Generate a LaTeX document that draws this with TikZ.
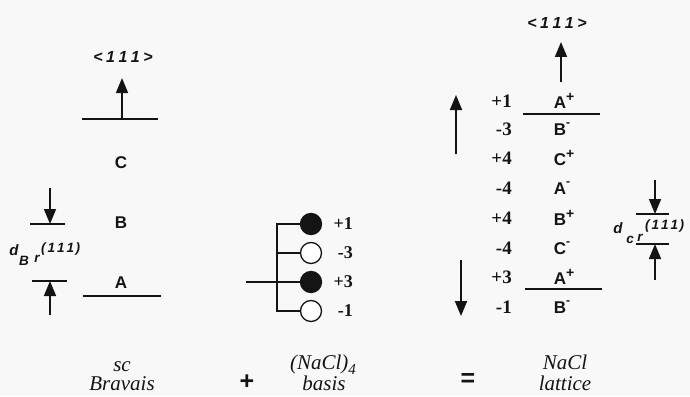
\documentclass[tikz,border=0pt]{standalone}
\usepackage{fontspec}
\setmainfont{Liberation Serif}
\setsansfont{Liberation Sans}
\usetikzlibrary{arrows.meta}

\definecolor{paper}{RGB}{247,248,247}
\definecolor{ink}{RGB}{20,20,20}

% spaced-out direction label
\newcommand{\dirlabel}{<\hspace{3.5pt}1\hspace{3.5pt}1\hspace{3.5pt}1\hspace{3.5pt}>}
\newcommand{\smalldir}{(\hspace{2pt}1\hspace{2pt}1\hspace{2pt}1\hspace{1.5pt})}
% ionic superscripts that do not shift the letter's centre
\newcommand{\cat}{\rlap{\raisebox{7pt}{\fontsize{14}{14}\selectfont +}}}
\newcommand{\an}{\rlap{\raisebox{9pt}{\fontsize{12}{12}\selectfont -}}}

\begin{document}
\begin{tikzpicture}[x=1pt,y=-1pt,
  every node/.style={inner sep=0pt, text=ink},
  plane/.style={draw=ink, line width=1.8pt},
  wire/.style={draw=ink, line width=1.3pt},
  dimarrow/.style={draw=ink, line width=1.6pt, -{Triangle[width=12pt,length=15pt]}},
  bigarrow/.style={draw=ink, line width=1.9pt, -{Triangle[width=12pt,length=15pt]}},
  layer/.style={font=\sffamily\bfseries\fontsize{17}{17}\selectfont},
  axislbl/.style={font=\sffamily\bfseries\itshape\fontsize{16}{16}\selectfont},
  dsym/.style={font=\sffamily\bfseries\itshape\fontsize{15}{15}\selectfont},
  dsub/.style={font=\sffamily\bfseries\itshape\fontsize{13.5}{13.5}\selectfont},
  charge/.style={font=\bfseries\fontsize{19}{19}\selectfont, anchor=east},
  bcharge/.style={font=\bfseries\fontsize{18}{18}\selectfont, anchor=east},
  fullatom/.style={circle, draw=ink, fill=ink, line width=1.3pt, minimum size=21pt},
  openatom/.style={circle, draw=ink, fill=white, line width=1.3pt, minimum size=21pt},
  caption/.style={font=\itshape\fontsize{21}{21}\selectfont, anchor=base},
  opsign/.style={font=\sffamily\bfseries\fontsize{25}{25}\selectfont}]

\fill[paper] (0,0) rectangle (690,396);
\useasboundingbox (0,0) rectangle (690,396);

% ---------- sc Bravais stacking ----------
\node[axislbl] (lax) at (123,57) {\dirlabel};
\coordinate (lplaneL) at (82,119);
\coordinate (lplaneR) at (158,119);
\coordinate (lfoot) at (122,119);
\coordinate (lhead) at (122,78);
\draw[plane] (lplaneL) -- (lplaneR);
\draw[dimarrow] (lfoot) -- (lhead);

\node[layer] (lC) at (121,163) {C};
\node[layer] (lB) at (121,223) {B};
\node[layer] (lA) at (121,283) {A};
\coordinate (lbaseL) at (83,296);
\coordinate (lbaseR) at (161,296);
\draw[plane] (lbaseL) -- (lbaseR);

% interplanar spacing marker
\coordinate (ldTopL) at (30,224);
\coordinate (ldTopR) at (65,224);
\coordinate (ldTopBar) at (50,224);
\coordinate (ldTopTail) at (50,188);
\coordinate (ldBotL) at (32,281);
\coordinate (ldBotR) at (67,281);
\coordinate (ldBotBar) at (50,281);
\coordinate (ldBotTail) at (50,315);
\draw[plane] (ldTopL) -- (ldTopR);
\draw[dimarrow] (ldTopTail) -- (ldTopBar);
\draw[plane] (ldBotL) -- (ldBotR);
\draw[dimarrow] (ldBotTail) -- (ldBotBar);
\node[dsym] (ld) at (14,250) {d};
\node[dsub] (ldB) at (24,261) {B};
\node[dsub] (ldr) at (37,259) {r};
\node[dsub, anchor=west] (ldm) at (41,249) {\smalldir};

% ---------- (NaCl)4 basis ----------
\node[fullatom] (c1) at (311,224) {};
\node[openatom] (c2) at (311,253) {};
\node[fullatom] (c3) at (311,282) {};
\node[openatom] (c4) at (311,311) {};
\coordinate (trunk) at (277,224);
\coordinate (feed) at (246,282);
\draw[wire] (c1.west) -| (trunk |- c4.west) -- (c4.west);
\draw[wire] (c2.west) -- (c2.west -| trunk);
\draw[wire] (feed) -- (c3.west);
\node[bcharge] (q1) at (353,224) {+1};
\node[bcharge] (q2) at (353,253) {-3};
\node[bcharge] (q3) at (353,282) {+3};
\node[bcharge] (q4) at (353,311) {-1};

% ---------- NaCl lattice stacking ----------
\node[axislbl] (rax) at (557,23) {\dirlabel};
\coordinate (rfoot) at (561,82);
\coordinate (rhead) at (561,42);
\draw[dimarrow] (rfoot) -- (rhead);

\foreach \y/\q/\ion [count=\i] in {
    101/+1/A\cat, 129/-3/B\an, 158/+4/C\cat, 188/-4/A\an,
    218/+4/B\cat, 248/-4/C\an, 277/+3/A\cat, 307/-1/B\an} {
  \node[charge] (n\i) at (512,\y) {\q};
  \node[layer] (s\i) at (560,\y) {\ion};
}
\coordinate (rtopL) at (523,114);
\coordinate (rtopR) at (600,114);
\coordinate (rbotL) at (525,289);
\coordinate (rbotR) at (602,289);
\draw[plane] (rtopL) -- (rtopR);
\draw[plane] (rbotL) -- (rbotR);

\coordinate (upTail) at (456,154);
\coordinate (upHead) at (456,95);
\coordinate (dnTail) at (461,260);
\coordinate (dnHead) at (461,316);
\draw[bigarrow] (upTail) -- (upHead);
\draw[bigarrow] (dnTail) -- (dnHead);

% interplanar spacing marker
\coordinate (rdTopL) at (636,214);
\coordinate (rdTopR) at (669,214);
\coordinate (rdTopBar) at (655,214);
\coordinate (rdTopTail) at (655,180);
\coordinate (rdBotL) at (636,244);
\coordinate (rdBotR) at (669,244);
\coordinate (rdBotBar) at (655,244);
\coordinate (rdBotTail) at (655,280);
\draw[plane] (rdTopL) -- (rdTopR);
\draw[dimarrow] (rdTopTail) -- (rdTopBar);
\draw[plane] (rdBotL) -- (rdBotR);
\draw[dimarrow] (rdBotTail) -- (rdBotBar);
\node[dsym] (rd) at (618,228) {d};
\node[dsub] (rdc) at (630,240) {c};
\node[dsub] (rdr) at (640,238) {r};
\node[dsub, anchor=west] (rdm) at (645,226) {\smalldir};

% ---------- captions ----------
\node[caption] (cap1a) at (122,371) {sc};
\node[caption] (cap1b) at (122,390) {Bravais};
\node[opsign] (plus) at (247,382) {+};
\node[caption] (cap2a) at (323,369) {(NaCl)\raisebox{-5pt}{\fontsize{15}{15}\selectfont 4}};
\node[caption] (cap2b) at (324,390) {basis};
\node[opsign] (equals) at (468,380) {=};
\node[caption] (cap3a) at (565,369) {NaCl};
\node[caption] (cap3b) at (565,390) {lattice};
\end{tikzpicture}
\end{document}
